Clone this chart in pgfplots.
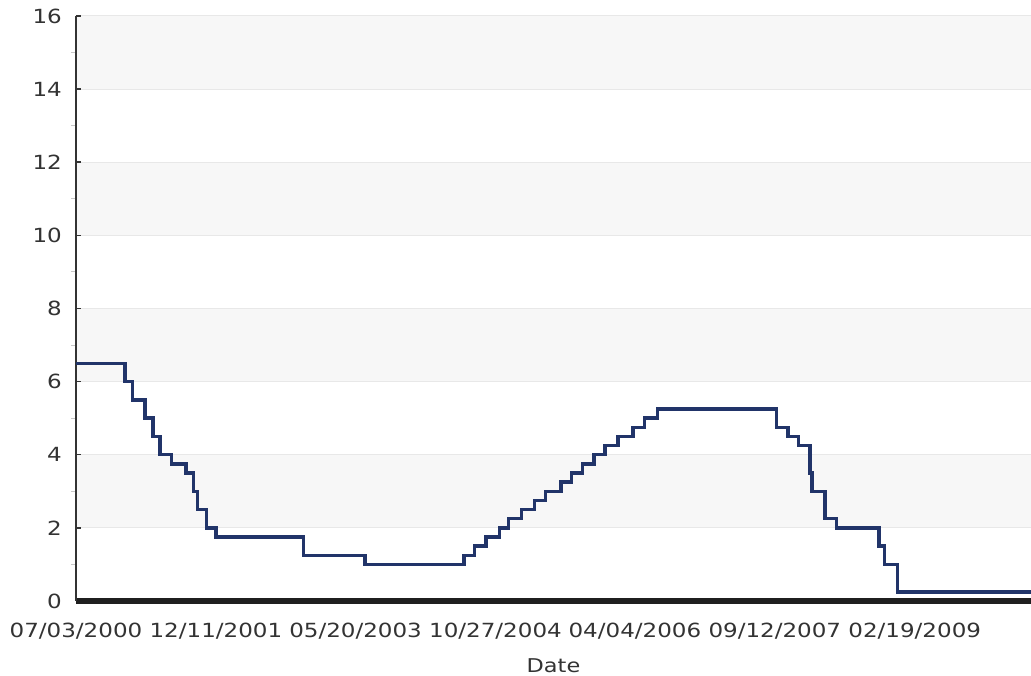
\documentclass[border=0pt]{standalone}
\usepackage{pgfplots}
\pgfplotsset{compat=1.18}
\usepackage{fontspec}
\setmainfont{DejaVu Sans}[FakeStretch=1.18]
\definecolor{navy}{RGB}{33,52,105}
\definecolor{band}{RGB}{247,247,247}
\definecolor{gridc}{RGB}{232,232,232}
\definecolor{txt}{RGB}{51,51,51}
\begin{document}
\begin{tikzpicture}
\begin{axis}[
  scale only axis, width=955pt, height=585pt,
  xmin=0, xmax=3590, ymin=0, ymax=16,
  hide axis,
]
\fill[band] (axis cs:0,14) rectangle (axis cs:3590,16);
\fill[band] (axis cs:0,10) rectangle (axis cs:3590,12);
\fill[band] (axis cs:0,6) rectangle (axis cs:3590,8);
\fill[band] (axis cs:0,2) rectangle (axis cs:3590,4);
\end{axis}
\begin{axis}[
  scale only axis, width=955pt, height=585pt,
  xmin=0, xmax=3590, ymin=0, ymax=16,
  axis lines*=left,
  x axis line style={line width=5.5pt, color=black!88},
  y axis line style={line width=2.6pt, color=txt},
  xtick={0,526,1051,1577,2101,2627,3153},
  xticklabels={07/03/2000,12/11/2001,05/20/2003,10/27/2004,04/04/2006,09/12/2007,02/19/2009},
  ytick={0,2,...,16},
  minor ytick={1,3,...,15},
  ymajorgrids, major grid style={gridc, line width=1pt},
  major tick length=5pt, minor tick length=5pt,
  major y tick style={txt, line width=1.5pt},
  minor y tick style={black!22, line width=1pt, xshift=-5pt},
  major x tick style={draw=none},
  /pgf/number format/assume math mode=true,
  every tick label/.append style={font=\fontsize{19.5}{22}\selectfont, text=txt},
  yticklabel style={anchor=east, inner sep=0pt, xshift=-14pt},
  xticklabel style={anchor=north, inner sep=0pt, yshift=-22pt},
  xlabel=Date,
  xlabel style={at={(axis description cs:0.5,0)}, anchor=north, inner sep=0pt, yshift=-57pt, font=\fontsize{19}{22}\selectfont, text=txt},
  clip=true,
]
\addplot[const plot, navy, line width=3.4pt, line join=miter] coordinates {
(0,6.50) (184,6.00) (212,5.50) (260,5.00) (289,4.50) (316,4.00)
(359,3.75) (414,3.50) (441,3.00) (456,2.50) (491,2.00) (526,1.75)
(856,1.25) (1087,1.00) (1458,1.25) (1499,1.50) (1541,1.75) (1591,2.00)
(1625,2.25) (1675,2.50) (1723,2.75) (1765,3.00) (1823,3.25) (1863,3.50)
(1905,3.75) (1947,4.00) (1989,4.25) (2038,4.50) (2094,4.75) (2137,5.00)
(2187,5.25) (2633,4.75) (2676,4.50) (2717,4.25) (2759,3.50) (2767,3.00)
(2815,2.25) (2858,2.00) (3019,1.50) (3040,1.00) (3088,0.25) (3600,0.25)
};
\end{axis}
\pgfresetboundingbox
\path[use as bounding box] (-76pt,-75pt) rectangle (955pt,601pt);
\end{tikzpicture}
\end{document}
